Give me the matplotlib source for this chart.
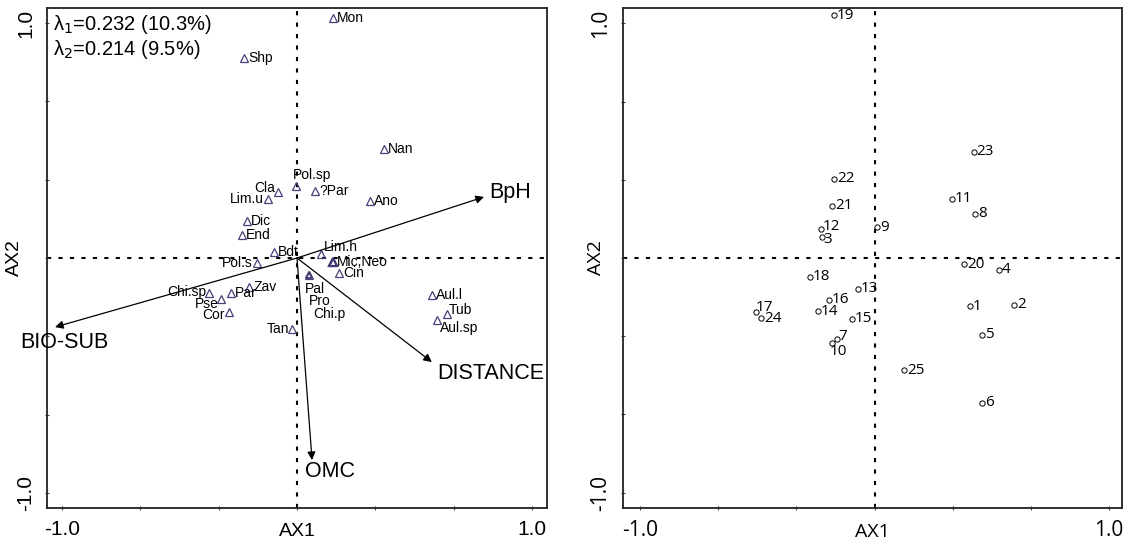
import numpy as np
import matplotlib.pyplot as plt

# species scores (left panel)
species = ['Mon', 'Shp', 'Nan', 'Pol.sp', '?Par', 'Cla', 'Lim.u', 'Ano', 'Dic', 'End',
           'Bdt', 'Lim.h', 'Pol.s', 'Mic,Neo', 'Cin', 'Pal', 'Zav', 'Par', 'Chi.sp',
           'Pse', 'Cor', 'Tan', 'Aul.l', 'Tub', 'Aul.sp']
sp_x = [0.153, -0.226, 0.370, -0.004, 0.077, -0.081, -0.123, 0.311, -0.213, -0.234,
        -0.098, 0.102, -0.170, 0.153, 0.179, 0.051, -0.204, -0.281, -0.374,
        -0.323, -0.289, -0.021, 0.574, 0.638, 0.596]
sp_y = [1.021, 0.851, 0.464, 0.306, 0.285, 0.281, 0.251, 0.243, 0.157, 0.098,
        0.026, 0.017, -0.021, -0.017, -0.064, -0.072, -0.123, -0.149, -0.149,
        -0.174, -0.230, -0.302, -0.157, -0.238, -0.264]

# environmental variables (arrows)
env = ['BpH', 'BIO-SUB', 'DISTANCE', 'OMC']
env_x = [0.796, -1.030, 0.574, 0.064]
env_y = [0.260, -0.294, -0.443, -0.860]

# sample scores (right panel)
samples = ['1', '2', '3', '4', '5', '6', '7', '8', '9', '10', '11', '12', '13',
           '14', '15', '16', '17', '18', '19', '20', '21', '22', '23', '24', '25']
sa_x = [0.407, 0.595, -0.224, 0.531, 0.458, 0.460, -0.160, 0.429, 0.011, -0.181,
        0.330, -0.228, -0.071, -0.241, -0.096, -0.194, -0.505, -0.275, -0.172,
        0.382, -0.181, -0.172, 0.424, -0.484, 0.126]
sa_y = [-0.205, -0.200, 0.090, -0.051, -0.328, -0.618, -0.345, 0.188, 0.132, -0.362,
        0.252, 0.124, -0.132, -0.226, -0.260, -0.179, -0.230, -0.081, 1.036,
        -0.026, 0.222, 0.337, 0.452, -0.256, -0.478]

eig_text = ['λ$_1$=0.232 (10.3%)', 'λ$_2$=0.214 (9.5%)']

# label placement: (dx, dy in points, ha, va)
sp_lab = {
    'Pol.sp': (-2, 3, 'left', 'bottom'),
    'Cla': (-2, 3, 'right', 'center'),
    'Lim.u': (-3, 0, 'right', 'center'),
    'Lim.h': (2, 5, 'left', 'center'),
    'Pol.s': (-3, 0, 'right', 'center'),
    'Chi.sp': (-2, 1, 'right', 'center'),
    'Pse': (-2, -4, 'right', 'center'),
    'Cor': (-3, -2, 'right', 'center'),
    'Tan': (-2, 0, 'right', 'center'),
    'Tub': (1, 3, 'left', 'center'),
    'Aul.sp': (2, -6, 'left', 'center'),
}
env_lab = {
    'BpH': (4, 3, 'left', 'center'),
    'BIO-SUB': (-25, -11, 'left', 'center'),
    'DISTANCE': (4, -8, 'left', 'center'),
    'OMC': (-5, -8, 'left', 'center'),
}
sa_lab = {
    '17': (0, 3, 'left', 'center'),
    '7': (1, 2, 'left', 'center'),
    '10': (-2, -6, 'left', 'center'),
    '3': (1, -2, 'left', 'center'),
    '12': (1, 2, 'left', 'center'),
}

fig = plt.figure(figsize=(11.27, 5.49), dpi=100)
ax1 = fig.add_axes([47/1127, 41/549, 500/1127, 500/549])
ax2 = fig.add_axes([623/1127, 41/549, 499/1127, 500/549])

ax1.set_xlim(-1.064, 1.064)
ax1.set_ylim(-1.064, 1.064)
ax2.set_xlim(-1.0725, 1.0554)
ax2.set_ylim(-1.066, 1.066)

for ax, fam, ylx in [(ax1, 'Liberation Sans', -0.048), (ax2, 'Open Sans', -0.036)]:
    ax.axhline(0, color='black', lw=1.5, ls=(0, (2, 3.5)), zorder=1)
    ax.axvline(0, color='black', lw=1.5, ls=(0, (2, 3.5)), zorder=1)
    ticks = [-1, -2/3, -1/3, 0, 1/3, 2/3, 1]
    labels = ['-1.0', '', '', '', '', '', '1.0']
    ax.set_xticks(ticks)
    ax.set_xticklabels(labels, fontsize=15, family=fam)
    ax.set_yticks(ticks)
    ax.set_yticklabels(labels, fontsize=15, family=fam, rotation=90, va='center')
    ax.tick_params(length=3, width=0.8, direction='inout', color='#444444', pad=7)
    for s in ax.spines.values():
        s.set_linewidth(1.3)
        s.set_color('#222222')
    ax.set_xlabel('AX1', fontsize=14, family=fam)
    ax.set_ylabel('AX2', fontsize=14, family=fam)
    ax.xaxis.set_label_coords(0.5, -0.03)
    ax.yaxis.set_label_coords(ylx, 0.5)

# left panel: species triangles
ax1.plot(sp_x, sp_y, '^', ms=6, mfc='none', mec='#4b3f7a', mew=0.9, zorder=3)
# overlapping species at Pal/Pro/Chi.p and Mic,Neo drawn darker
ax1.plot([sp_x[15]] * 2, [sp_y[15]] * 2, '^', ms=4, mfc='none', mec='#4b3f7a', mew=1.2)
ax1.plot(sp_x[13], sp_y[13], '^', ms=6, mfc='none', mec='#3a2f66', mew=1.6)
for name, x, y in zip(species, sp_x, sp_y):
    if name == 'Pal':
        for i, n2 in enumerate(['Pal', 'Pro', 'Chi.p']):
            ax1.annotate(n2, (x, y), xytext=(-3 + 3 * i, -10 - 9 * i), textcoords='offset points',
                         ha='left', va='center', fontsize=10, family='Liberation Sans')
        continue
    dx, dy, ha, va = sp_lab.get(name, (3, 0, 'left', 'center'))
    ax1.annotate(name, (x, y), xytext=(dx, dy), textcoords='offset points',
                 ha=ha, va=va, fontsize=10, family='Liberation Sans')

for name, x, y in zip(env, env_x, env_y):
    ax1.annotate('', xy=(x, y), xytext=(0, 0),
                 arrowprops=dict(arrowstyle='-|>', color='black', lw=0.9,
                                 mutation_scale=12, shrinkA=0, shrinkB=0))
    dx, dy, ha, va = env_lab[name]
    ax1.annotate(name, (x, y), xytext=(dx, dy), textcoords='offset points',
                 ha=ha, va=va, fontsize=15.5, family='Liberation Sans')

for i, t in enumerate(eig_text):
    ax1.text(0.012, 0.99 - 0.05 * i, t, transform=ax1.transAxes, ha='left', va='top',
             fontsize=14.5, family='Liberation Sans')

# right panel: samples
ax2.plot(sa_x, sa_y, 'o', ms=3.8, mfc='none', mec='black', mew=0.7, zorder=3)
for name, x, y in zip(samples, sa_x, sa_y):
    dx, dy, ha, va = sa_lab.get(name, (2, 0, 'left', 'center'))
    ax2.annotate(name, (x, y), xytext=(dx, dy), textcoords='offset points',
                 ha=ha, va=va, fontsize=11, family='Open Sans')

fig.savefig('out.png', dpi=100)
